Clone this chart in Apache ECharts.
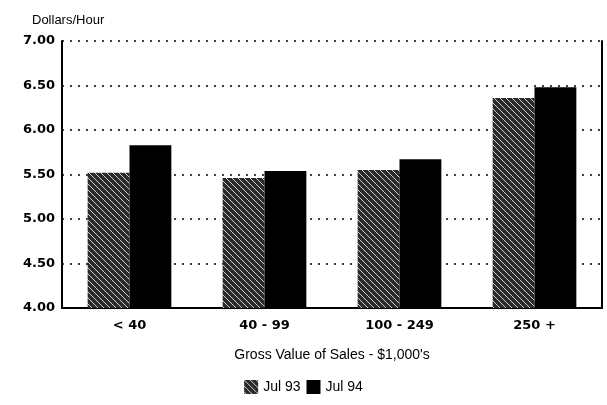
<!DOCTYPE html>
<html>
<head>
<meta charset="utf-8">
<script src="https://cdn.jsdelivr.net/npm/echarts@6/dist/echarts.min.js"></script>
<style>
  html, body { margin: 0; padding: 0; background: #fff; }
  #main { width: 607px; height: 405px; }
</style>
</head>
<body>
<div id="main"></div>
<script>
// 数据
var categories = ['< 40', '40 - 99', '100 - 249', '250 +'];
var jul93 = [5.52, 5.46, 5.55, 6.36];
var jul94 = [5.83, 5.54, 5.67, 6.48];
var yTicks = ['4.00', '4.50', '5.00', '5.50', '6.00', '6.50', '7.00'];

// 斜线填充
function hatch() {
  var c = document.createElement('canvas');
  c.width = 6; c.height = 6;
  var ctx = c.getContext('2d');
  ctx.fillStyle = '#2a2a2a';
  ctx.fillRect(0, 0, 6, 6);
  ctx.strokeStyle = '#cfcfcf';
  ctx.lineWidth = 1;
  ctx.beginPath();
  ctx.moveTo(0, 0); ctx.lineTo(6, 6);
  ctx.moveTo(-3, 3); ctx.lineTo(3, 9);
  ctx.moveTo(3, -3); ctx.lineTo(9, 3);
  ctx.stroke();
  return c;
}
var pattern = { image: hatch(), repeat: 'repeat' };

var chart = echarts.init(document.getElementById('main'));
var font = 'Liberation Sans, Arial, sans-serif';
var boldFont = 'DejaVu Sans, Liberation Sans, sans-serif';
var option = {
  animation: false,
  textStyle: { fontFamily: font, color: '#000' },
  grid: { left: 62, right: 5, top: 41, bottom: 97 },
  legend: {
    bottom: 6,
    left: 'center',
    itemWidth: 14,
    itemHeight: 14,
    itemGap: 6,
    textStyle: { fontSize: 14, fontFamily: font, color: '#000' },
    data: [
      { name: 'Jul 93', icon: 'rect', itemStyle: { color: pattern } },
      { name: 'Jul 94', icon: 'rect' }
    ]
  },
  xAxis: {
    type: 'category',
    data: categories,
    name: "Gross Value of Sales - $1,000's",
    nameLocation: 'middle',
    nameGap: 40,
    nameTextStyle: { fontSize: 14, color: '#000' },
    axisLine: { lineStyle: { color: '#000', width: 2 } },
    axisTick: { show: false },
    axisLabel: { fontSize: 13, fontWeight: 'bold', fontFamily: boldFont, color: '#000', margin: 11 }
  },
  yAxis: [{
    type: 'value',
    min: 4, max: 7, interval: 0.5,
    name: 'Dollars/Hour',
    nameLocation: 'end',
    nameGap: 14,
    nameTextStyle: { fontSize: 13, color: '#000', align: 'left', padding: [0, 0, 0, -30] },
    axisLine: { show: true, lineStyle: { color: '#000', width: 2 } },
    axisTick: { show: false },
    axisLabel: {
      fontSize: 13, fontWeight: 'bold', fontFamily: boldFont, color: '#000', margin: 7,
      formatter: function (v) { return yTicks[Math.round((v - 4) / 0.5)]; }
    },
    splitLine: { lineStyle: { color: '#000', type: [2, 6], width: 1.5 } }
  }, {
    type: 'value',
    min: 4, max: 7, interval: 0.5,
    position: 'right',
    axisLine: { show: true, lineStyle: { color: '#000', width: 2 } },
    axisTick: { show: false },
    axisLabel: { show: false },
    splitLine: { show: false }
  }],
  series: [{
    name: 'Jul 93',
    type: 'bar',
    data: jul93,
    barGap: '0%',
    barCategoryGap: '38%',
    itemStyle: { color: pattern }
  }, {
    name: 'Jul 94',
    type: 'bar',
    data: jul94,
    itemStyle: { color: '#000' }
  }]
};
chart.setOption(option);
</script>
</body>
</html>
